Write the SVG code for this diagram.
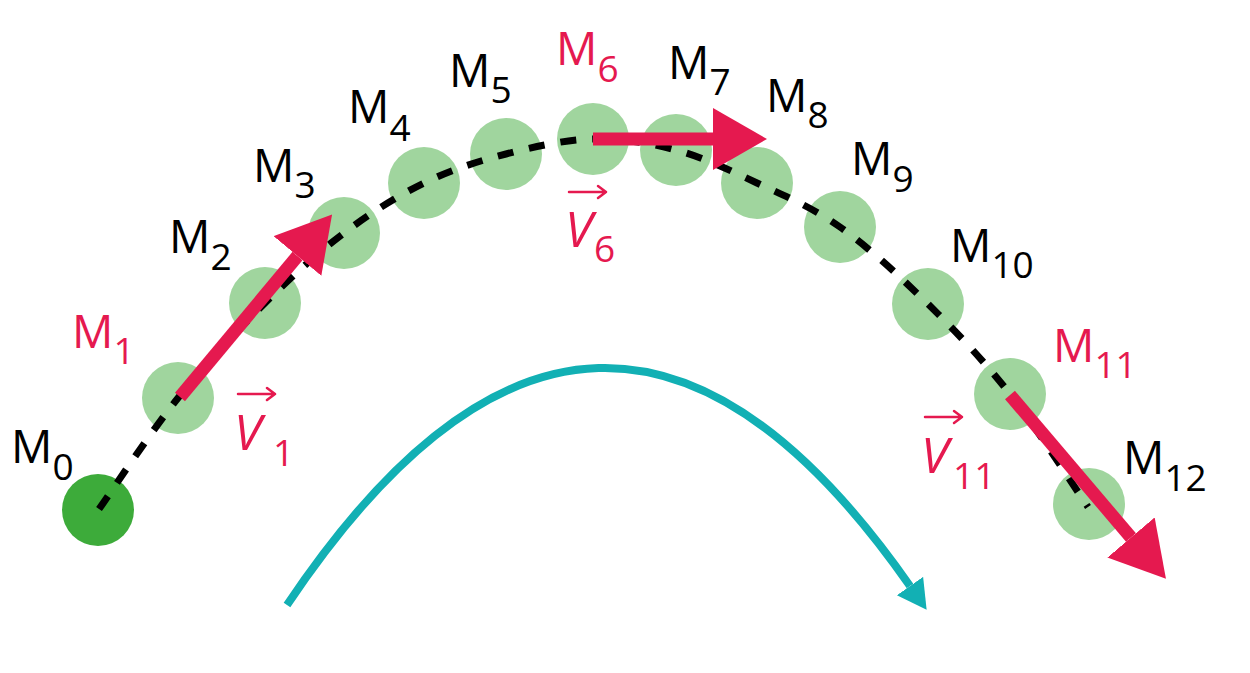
<svg xmlns="http://www.w3.org/2000/svg" width="1250" height="673" viewBox="0 0 1250 673">
<defs>
<style>
.pt{fill:#a0d59e}
.p0{fill:#3dab3a}
.lbl{font-family:"Open Sans","Noto Sans",sans-serif;font-size:46px}
.blk{fill:#000}
.red{fill:#e5194f}
.sub{font-size:37px}
.v{font-family:"Open Sans","Noto Sans",sans-serif;font-size:50px;font-style:italic;fill:#e5194f}
.vs{font-style:normal;font-size:37px}
.vec{fill:none;stroke:#e5194f;stroke-width:13}
.varr{fill:none;stroke:#e5194f;stroke-width:2.5;stroke-linecap:round;stroke-linejoin:round}
.traj{fill:none;stroke:#000;stroke-width:7;stroke-dasharray:16 16}
.cyan{fill:none;stroke:#12b0b4;stroke-width:8}
</style>
<marker id="rh" markerUnits="userSpaceOnUse" markerWidth="56" markerHeight="64" refX="0" refY="31" orient="auto">
<path d="M0,0 L54,31 L0,62 z" fill="#e5194f"/>
</marker>
<marker id="ch" markerUnits="userSpaceOnUse" markerWidth="30" markerHeight="34" refX="0" refY="16" orient="auto">
<path d="M0,0 L29,16 L0,32 z" fill="#12b0b4"/>
</marker>
</defs>
<rect width="1250" height="673" fill="#fff"/>

<g id="M0"><circle class="p0" cx="98" cy="510" r="36"/><text class="lbl blk" x="11" y="463">M<tspan class="sub" dy="17">0</tspan></text></g>
<g id="M1"><circle class="pt" cx="178" cy="398" r="36"/><text class="lbl red" x="72" y="348">M<tspan class="sub" dy="16">1</tspan></text></g>
<g id="M2"><circle class="pt" cx="265" cy="303" r="36"/><text class="lbl blk" x="169" y="253">M<tspan class="sub" dy="17">2</tspan></text></g>
<g id="M3"><circle class="pt" cx="344" cy="233" r="36"/><text class="lbl blk" x="253" y="182">M<tspan class="sub" dy="16">3</tspan></text></g>
<g id="M4"><circle class="pt" cx="424" cy="183" r="36"/><text class="lbl blk" x="348" y="123">M<tspan class="sub" dy="18">4</tspan></text></g>
<g id="M5"><circle class="pt" cx="506" cy="154" r="36"/><text class="lbl blk" x="449" y="87">M<tspan class="sub" dy="16">5</tspan></text></g>
<g id="M6"><circle class="pt" cx="593" cy="139" r="36"/><text class="lbl red" x="556" y="65">M<tspan class="sub" dy="17">6</tspan></text></g>
<g id="M7"><circle class="pt" cx="676" cy="150" r="36"/><text class="lbl blk" x="668" y="79">M<tspan class="sub" dy="16">7</tspan></text></g>
<g id="M8"><circle class="pt" cx="757" cy="183" r="36"/><text class="lbl blk" x="766" y="112">M<tspan class="sub" dy="16">8</tspan></text></g>
<g id="M9"><circle class="pt" cx="840" cy="227" r="36"/><text class="lbl blk" x="851" y="175">M<tspan class="sub" dy="17">9</tspan></text></g>
<g id="M10"><circle class="pt" cx="928" cy="304" r="36"/><text class="lbl blk" x="950" y="262">M<tspan class="sub" dy="16">10</tspan></text></g>
<g id="M11"><circle class="pt" cx="1010" cy="394" r="36"/><text class="lbl red" x="1053" y="362">M<tspan class="sub" dy="16">11</tspan></text></g>
<g id="M12"><circle class="pt" cx="1089" cy="504" r="36"/><text class="lbl blk" x="1123" y="474">M<tspan class="sub" dy="17">12</tspan></text></g>

<g id="connectors">
<path class="traj" d="M99,509 C112.2,490.5 150.3,432.3 178,398 C205.7,363.7 237.3,330.5 265,303 C292.7,275.5 317.5,253 344,233 C370.5,213 397,196.2 424,183 C451,169.8 477.8,161.3 506,154 C534.2,146.7 564.7,139.7 593,139 C621.3,138.3 648.7,142.7 676,150 C703.3,157.3 729.7,170.2 757,183 C784.3,195.8 811.5,206.8 840,227 C868.5,247.2 899.7,276.2 928,304 C956.3,331.8 983.3,360.2 1010,394 C1036.7,427.8 1075,488.2 1088,507"/>
<path class="vec" d="M180,397 L297.5,256" marker-end="url(#rh)"/>
<path class="vec" d="M593,139 L713,139" marker-end="url(#rh)"/>
<path class="vec" d="M1010,395 L1131,537.5" marker-end="url(#rh)"/>
<path class="cyan" d="M287,605 Q598.5,140.6 910,586" marker-end="url(#ch)"/>
</g>

<g id="V1">
<path class="varr" d="M238,394 H275 M267,388 L275,394 L267,400"/>
<text class="v" x="234" y="450">V<tspan class="vs" x="273" y="466">1</tspan></text>
</g>
<g id="V6">
<path class="varr" d="M569,192 H606 M598,186 L606,192 L598,198"/>
<text class="v" x="565" y="247">V<tspan class="vs" x="594" y="262">6</tspan></text>
</g>
<g id="V11">
<path class="varr" d="M925,417 H962 M954,411 L962,417 L954,423"/>
<text class="v" x="921" y="473">V<tspan class="vs" x="953" y="489">11</tspan></text>
</g>
</svg>
